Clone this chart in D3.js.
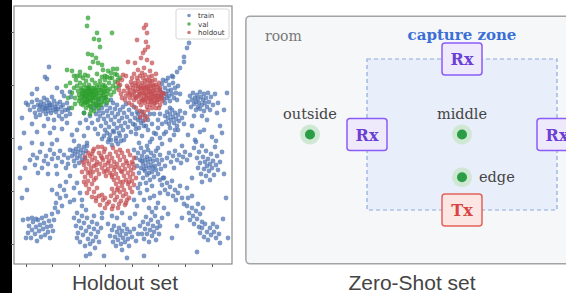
<!DOCTYPE html>
<head>
<meta charset="utf-8">
<script src="https://d3js.org/d3.v7.min.js"></script>
<style>
body { margin: 0; background: #fff; }
svg { display: block; }
.caption { font-family: "Liberation Sans", Arial, sans-serif; font-size: 21px; fill: #444; text-anchor: middle; }
.serif { font-family: "DejaVu Serif", serif; }
.legend text { font-family: "DejaVu Sans", sans-serif; font-size: 7px; fill: #333; }
</style>
</head>
<body>
<script>
// ---- scatter data (embedding coords) ----
var seriesNames = ["train", "val", "holdout"];
var seriesColors = ["#4c72b0", "#2ca02c", "#c44e52"];
var xTicks = [-106, -80, -53, -27, 0, 26, 53, 80];
var yTicks = [106, 53, 0, -53, -106];

var train = [
  [-104,33],[-102,28],[-100,36],[-98,31],[-97,25],[-95,38],[-94,33],[-93,28],[-92,23],[-91,36],[-90,31],[-89,27],[-88,34],[-87,29],[-86,24],[-85,38],[-85,32],[-84,27],[-83,35],[-82,30],[-81,25],[-80,33],[-79,28],[-78,37],[-77,31],[-76,26],[-75,34],[-74,29],[-73,22],[-72,36],[-71,31],[-70,26],[-69,33],[-67,28],[-66,22],[-65,35],[-63,30],[-62,24],[-88,40],[-80,41],[-96,21],[-84,19],[-78,18],[-70,19],[-92,32],[-86,30],[-82,33],[-76,29],
  [-83,71],[-87,61],[-85,59],[-62,46],[-61,41],[-70,46],[-100,44],[-106,35],[-75,50],[-95,49],[-68,42],[-64,28],
  [-38,30],[-36,24],[-35,33],[-34,18],[-33,27],[-32,22],[-31,12],[-30,30],[-29,25],[-28,19],[-27,8],[-26,33],[-26,15],[-25,27],[-24,22],[-23,11],[-22,3],[-22,30],[-21,18],[-20,25],[-19,7],[-19,35],[-18,14],[-17,29],[-17,21],[-16,0],[-15,10],[-15,33],[-14,24],[-13,17],[-13,5],[-12,28],[-11,-3],[-11,12],[-10,20],[-9,31],[-9,8],[-8,25],[-7,15],[-6,2],[-6,34],[-5,21],[-4,11],[-3,28],[-2,17],[-1,6],[0,24],[1,14],[2,31],[3,20],[4,9],[5,26],[-40,15],[-42,22],[-37,9],[-34,4],[-30,-1],[-24,-4],[-20,-7],[-14,-6],[-8,-2],[-28,2],[-16,-3],[-23,-1],[-12,2],[-18,6],[-21,-2],[-25,5],[-44,10],[-46,18],[-48,25],[-33,38],[-27,40],[-21,38],
  [28,48],[29,42],[30,54],[31,45],[32,39],[33,50],[34,44],[34,57],[35,40],[36,47],[37,53],[37,42],[38,37],[39,48],[40,44],[41,55],[42,40],[43,50],[44,45],[45,38],[36,60],[40,62],[33,35],[38,30],[46,52],[31,58],[48,44],
  [55,90],[52,81],[52,76],[48,70],[45,66],[41,61],[57,95],
  [56,36],[58,42],[59,31],[60,38],[61,45],[62,34],[63,40],[64,28],[64,36],[65,43],[66,31],[66,39],[67,35],[68,46],[68,29],[69,41],[70,33],[71,38],[72,44],[72,27],[73,35],[74,40],[75,31],[76,45],[77,36],[78,28],[79,41],[81,33],[83,44],[70,22],[62,22],[86,35],
  [33,22],[34,16],[35,26],[36,20],[37,14],[38,24],[39,18],[40,28],[41,21],[42,15],[43,25],[44,19],[45,12],[46,23],[47,17],[48,27],[50,20],[52,14],[38,10],[43,8],[30,14],[28,24],
  [6,18],[9,15],[3,13],[12,12],[16,8],[20,14],[22,5],[26,10],
  [6,24],[8,20],[10,26],[11,17],[13,22],[14,12],[7,10],[16,18],[18,24],[4,4],[10,2],[20,-1],[24,4],[28,0],[32,4],[26,18],[22,24],[34,6],[38,-2],[42,3],[46,8],
  [75,18],[80,1],[68,6],[53,25],[85,25],[60,12],[88,12],[72,8],[56,3],[63,-2],[92,28],[95,45],[90,5],
  [-95,6],[-82,5],[-65,15],[-52,15],[-55,8],[-60,3],[-70,9],[-88,12],[-100,14],[-75,-2],[-108,5],[-78,10],[-58,-3],[-48,2],[-45,-5],
  [-60,-18],[-59,-13],[-58,-23],[-57,-16],[-56,-11],[-55,-20],[-54,-14],[-53,-25],[-52,-18],[-51,-12],[-50,-22],[-49,-15],[-48,-9],[-47,-20],[-46,-13],[-45,-8],[-53,-8],[-62,-12],[-64,-20],[-57,-28],
  [-102,-22],[-99,-17],[-97,-27],[-95,-20],[-92,-14],[-90,-30],[-88,-23],[-86,-18],[-84,-26],[-82,-12],[-80,-21],[-78,-16],[-76,-28],[-74,-20],[-72,-13],[-70,-24],[-68,-17],[-66,-30],[-64,-26],[-94,-35],[-84,-36],[-107,-30],[-75,-36],[-80,-6],[-90,-6],[-100,-5],
  [2,-12],[4,-20],[5,-28],[6,-15],[7,-35],[8,-22],[9,-10],[9,-30],[10,-18],[11,-26],[11,-40],[12,-14],[13,-22],[13,-33],[14,-28],[15,-19],[15,-37],[16,-24],[16,-12],[17,-30],[18,-21],[18,-42],[19,-27],[19,-15],[20,-34],[21,-23],[22,-18],[22,-39],[23,-28],[24,-13],[24,-32],[25,-22],[26,-36],[27,-26],[28,-17],[29,-31],[30,-22],[31,-40],[33,-28],[14,-45],[8,-46],[20,-48],[12,-31],[17,-35],[10,-23],[21,-30],[15,-8],[26,-10],[7,-5],[18,-4],[30,-6],
  [35,-20],[37,-15],[39,-24],[41,-18],[43,-13],[45,-22],[47,-17],[49,-25],[51,-19],[53,-14],[55,-22],[58,-17],[42,-30],[50,-8],
  [62,-10],[64,-4],[65,-20],[66,-30],[67,-14],[68,-25],[69,-36],[70,-8],[71,-19],[72,-31],[73,-24],[74,-13],[74,-38],[75,-28],[76,-21],[77,-33],[78,-26],[79,-16],[80,-30],[81,-23],[82,-37],[83,-9],[84,-27],[85,-18],[86,-32],[88,-24],[90,-14],[78,-42],[70,-44],[84,-3],[92,-36],
  [28,-42],[30,-47],[32,-40],[33,-52],[35,-45],[36,-56],[38,-49],[40,-43],[41,-58],[43,-52],[44,-62],[46,-55],[48,-48],[50,-60],[52,-66],
  [55,-68],[57,-75],[58,-82],[60,-70],[61,-78],[62,-86],[64,-73],[65,-81],[66,-66],[67,-89],[68,-76],[70,-84],[71,-70],[56,-60],[60,-58],
  [68,-95],[70,-90],[72,-99],[73,-86],[75,-94],[76,-102],[78,-90],[79,-97],[81,-86],[82,-94],[84,-100],[85,-89],[87,-96],[88,-105],[91,-81],[65,-114],
  [-109,-82],[-104,-95],[-103,-88],[-101,-100],[-100,-92],[-99,-84],[-97,-96],[-96,-89],[-95,-103],[-94,-82],[-93,-93],[-92,-87],[-91,-99],[-90,-80],[-89,-91],[-88,-85],[-87,-97],[-86,-78],[-85,-89],[-84,-94],[-83,-83],[-82,-100],[-81,-88],[-80,-76],[-79,-93],[-78,-82],[-77,-70],[-76,-65],[-74,-74],[-72,-60],[-104,-81],[-100,-80],[-96,-81],[-106,-100],[-70,-68],
  [-80,-52],[-75,-56],[-72,-48],[-68,-52],[-105,-52],[-66,-44],[-62,-38],
  [-58,-80],[-56,-88],[-55,-75],[-54,-95],[-53,-83],[-52,-104],[-51,-90],[-50,-78],[-49,-97],[-48,-85],[-47,-108],[-46,-93],[-45,-80],[-44,-101],[-43,-89],[-42,-106],[-41,-96],[-40,-84],[-39,-103],[-38,-91],[-37,-110],[-36,-99],[-35,-86],[-34,-94],[-33,-104],[-31,-90],[-42,-116],[-50,-68],[-58,-62],[-55,-100],[-46,-72],[-38,-78],[-30,-80],
  [-22,-98],[-20,-92],[-19,-104],[-18,-88],[-17,-99],[-16,-108],[-15,-94],[-14,-102],[-13,-90],[-12,-97],[-11,-106],[-10,-93],[-9,-100],[-8,-87],[-7,-104],[-6,-96],[-5,-91],[-4,-101],[-3,-108],[-2,-94],[0,-99],[2,-91],[4,-103],[6,-96],[-24,-86],[-10,-112],[-15,-80],
  [8,-88],[10,-96],[11,-84],[12,-101],[13,-91],[14,-79],[15,-96],[16,-86],[17,-104],[18,-92],[19,-82],[20,-98],[21,-88],[22,-94],[23,-78],[24,-102],[25,-90],[26,-84],[27,-96],[28,-88],[30,-80],[20,-74],[17,-70],[24,-70],
  [8,-55],[12,-62],[5,-68],[15,-52],[22,-58],[26,-65],[18,-60],[32,-70],[36,-76],[28,-55],[3,-76],[-2,-80],
  [-55,-45],[-52,-55],[-58,-50],[-50,-62],[-20,-78],[-30,-75],[-10,-75],[2,-62],[6,-50],[-62,-64],[-66,-58],[-46,-118],[-28,-118],[-5,-120],[12,-118],[40,-100],[45,-88],[50,-80],[-110,-60],[-112,-40],[-112,-10],[-110,20],[94,-60],[96,-100],[60,-40],[55,-50]
];

var val = [
  [-44,120],[-45,112],[-35,105],[-20,105],[-38,99],[-33,98],[-32,91],[-44,84],[-40,83],[-39,76],[-34,75],[-30,73],[-65,68],[-60,67],[-52,66],[-47,63],[-29,68],[-24,67],[-19,69],[-15,69],[-36,80],[-42,70],[-27,62],[-22,60],
  [-56,58],[-55,52],[-54,47],[-53,43],[-52,55],[-51,50],[-50,44],[-50,38],[-49,60],[-48,53],[-48,47],[-47,41],[-47,35],[-46,57],[-46,50],[-45,45],[-45,39],[-44,33],[-43,53],[-43,48],[-42,43],[-42,37],[-41,31],[-40,58],[-40,50],[-39,45],[-39,40],[-38,34],[-37,55],[-37,47],[-36,42],[-36,37],[-35,51],[-34,45],[-34,39],[-33,33],[-32,57],[-31,48],[-31,42],[-30,36],[-29,53],[-28,46],[-28,40],[-27,58],[-26,50],[-25,44],[-24,38],[-23,55],[-22,49],[-21,43],[-20,60],[-19,52],[-18,46],[-17,56],[-16,50],[-15,63],[-14,58],[-13,52],[-58,50],[-60,45],[-57,40],[-52,62],[-44,62],[-35,64],[-30,61],[-41,28],[-38,27],[-46,30],[-49,33],[-53,37],[-44,41],[-41,46],[-43,50],[-48,42],[-46,36],[-38,43],[-36,48],[-33,53],[-25,61],[-21,65],[-17,64],[-12,60],[-62,55],[-58,62],[-66,52],[-64,40],[-48,25],[-42,24],[-45,47],[-40,40],[-50,48],[-52,40],[-34,30],[-30,45],[-27,52],[-24,47],[-55,62],[-60,30],[-57,34],
  [-51,34],[-49,41],[-47,46],[-45,36],[-44,50],[-43,43],[-42,32],[-41,38],[-40,47],[-39,35],[-38,50],[-37,40],[-35,44],[-34,35],[-33,48],[-32,40],[-31,33],[-29,43],[-28,37],[-27,47],[-26,41],[-44,38],[-48,37],[-50,45],[-36,32],[-40,43],[-46,43],[-30,50],[-25,35],[-42,47]
];

var holdout = [
  [14,113],[12,110],[15,105],[5,98],[14,96],[16,91],[11,85],[-4,76],[3,75],[15,78],[20,75],[13,88],[9,80],[-10,58],[-9,63],[-12,53],[6,68],[12,70],[18,67],[24,64],
  [-11,44],[-8,47],[-6,42],[-4,45],[-2,40],[0,43],[2,38],[3,47],[4,52],[5,41],[6,57],[7,36],[7,46],[8,62],[8,50],[9,40],[9,33],[10,55],[10,45],[11,38],[11,60],[12,49],[12,42],[13,35],[13,53],[14,46],[14,39],[15,58],[15,50],[15,31],[16,43],[16,36],[17,54],[17,47],[18,40],[18,33],[19,50],[19,44],[20,37],[20,57],[21,47],[21,41],[22,34],[22,52],[23,44],[23,38],[24,48],[24,30],[25,42],[25,36],[26,51],[26,45],[27,39],[28,33],[28,47],[29,42],[30,37],[10,65],[13,63],[17,61],[20,62],[6,49],[3,55],[1,50],[-1,56],[-5,52],[-7,38],[-3,35],[0,33],[4,30],[8,27],[12,26],[16,28],[20,30],[11,23],[15,21],[13,18],[-10,40],[-13,48],[9,52],[12,45],[16,49],[19,39],[22,42],[18,46],[14,43],[11,50],[21,53],[24,40],[26,38],[5,60],[2,64],[13,57],[18,57],[23,58],[27,55],[7,43],[10,37],[3,42],[-2,48],[0,60],[-6,62],[-14,55],[27,30],[30,45],
  [-4,50],[-2,44],[0,53],[2,46],[4,40],[6,53],[8,44],[10,49],[12,38],[14,51],[16,40],[18,52],[20,44],[22,48],[24,53],[26,42],[28,50],[30,40],[32,44],[8,21],[19,36],[23,35],
  [-34,-9],[-27,-11],[-19,-10],[-12,-12],
  [-44,-15],[-39,-13],[-33,-15],[-28,-14],[-22,-16],[-16,-14],[-10,-15],[-4,-13],
  [-47,-19],[-42,-18],[-37,-20],[-31,-18],[-25,-19],[-20,-20],[-14,-18],[-8,-19],[-2,-17],[2,-20],
  [-45,-23],[-40,-22],[-35,-24],[-29,-22],[-23,-23],[-18,-24],[-12,-22],[-6,-23],[0,-24],
  [-48,-27],[-43,-26],[-38,-28],[-32,-26],[-27,-27],[-21,-28],[-15,-26],[-9,-27],[-3,-28],[1,-26],
  [-46,-31],[-41,-30],[-35,-32],[-30,-30],[-24,-31],[-18,-32],[-13,-30],[-7,-31],[-1,-32],
  [-44,-35],[-39,-34],[-33,-36],[-28,-34],[-22,-35],[-16,-36],[-10,-34],[-4,-35],[1,-36],
  [-47,-39],[-41,-38],[-36,-40],[-26,-38],[-20,-39],[-14,-40],[-8,-38],[-2,-39],
  [-44,-43],[-38,-42],[-18,-42],[-12,-44],[-6,-42],[0,-43],
  [-46,-47],[-40,-46],[-16,-46],[-10,-48],[-4,-46],[2,-47],
  [-43,-51],[-35,-50],[-20,-51],[-14,-50],[-8,-52],[-2,-50],
  [-45,-55],[-38,-54],[-30,-57],[-18,-55],[-12,-54],[-6,-56],[0,-54],
  [-40,-59],[-33,-58],[-27,-60],[-21,-58],[-15,-59],[-9,-58],[-3,-60],
  [-36,-63],[-29,-62],[-23,-64],[-17,-62],[-11,-63],[-5,-62],
  [-32,-67],[-25,-66],[-19,-68],[-13,-66],[-7,-67],
  [-27,-70],[-20,-71],[-14,-70],
  [-40,-16],[-30,-20],[-24,-25],[-17,-29],[-11,-33],[-5,-25],[-36,-27],[-42,-34],[-26,-33],[-20,-37],[-9,-44],[-15,-52],[-3,-44],[-49,-24],[-50,-34],[-48,-44],[-36,-60],[2,-30],[4,-40],[-6,-65],[-30,-9],[-38,-11]
];

// ---- zero-shot layout (metres, capture zone = 4 x 3) ----
var receivers = [[2, 3], [0, 1.5], [4, 1.5]];
var transmitter = [2, 0];
var testPoints = [
  {name: "outside", pos: [-1.2, 1.5]},
  {name: "middle", pos: [2, 1.5]},
  {name: "edge", pos: [2, 0.65]}
];
var zoneSize = [4, 3];
var roomBounds = [-2.55, -1.07, 5.0, 3.85];

var W = 566, H = 293;
var svg = d3.select("body").append("svg").attr("width", W).attr("height", H);

// black strip at the left edge
svg.append("rect").attr("x", 0).attr("y", 0).attr("width", 12).attr("height", H).attr("fill", "#000");

// ---------------- left: scatter ----------------
var plot = {left: 14, right: 232, top: 6, bottom: 264};
var x = d3.scaleLinear().domain([-118, 100]).range([plot.left, plot.right]);
var y = d3.scaleLinear().domain([-126, 132]).range([plot.bottom, plot.top]);

svg.append("g")
    .attr("transform", "translate(0," + plot.bottom + ")")
    .call(d3.axisBottom(x).tickValues(xTicks).tickSize(3).tickFormat(""))
    .call(function(g) { g.select(".domain").remove(); g.selectAll("line").attr("stroke", "#555"); });

svg.append("g")
    .attr("transform", "translate(" + plot.left + ",0)")
    .call(d3.axisLeft(y).tickValues(yTicks).tickSize(3).tickFormat(""))
    .call(function(g) { g.select(".domain").remove(); g.selectAll("line").attr("stroke", "#555"); });

var allSeries = [train, val, holdout];
allSeries.forEach(function(pts, i) {
    svg.append("g").selectAll("circle")
        .data(pts)
        .enter().append("circle")
        .attr("cx", function(d) { return x(d[0]); })
        .attr("cy", function(d) { return y(d[1]); })
        .attr("r", 2.4)
        .attr("fill", seriesColors[i])
        .attr("fill-opacity", 0.72);
});

svg.append("rect")
    .attr("x", plot.left).attr("y", plot.top)
    .attr("width", plot.right - plot.left).attr("height", plot.bottom - plot.top)
    .attr("fill", "none").attr("stroke", "#8c8c8c").attr("stroke-width", 1.2);

// legend
var legend = svg.append("g").attr("class", "legend");
legend.append("rect")
    .attr("x", 176).attr("y", 9).attr("width", 53).attr("height", 30).attr("rx", 2)
    .attr("fill", "#fff").attr("fill-opacity", 0.85).attr("stroke", "#d6d6d6");
seriesNames.forEach(function(name, i) {
    var ly = 15.5 + i * 8.5;
    legend.append("circle").attr("cx", 189).attr("cy", ly).attr("r", 1.8)
        .attr("fill", seriesColors[i]).attr("fill-opacity", 0.75);
    legend.append("text").attr("x", 198).attr("y", ly + 2.5).text(name);
});

svg.append("text").attr("class", "caption").attr("x", 125).attr("y", 290).text("Holdout set");

// ---------------- right: zero-shot diagram ----------------
var zx = d3.scaleLinear().domain([0, zoneSize[0]]).range([367, 557]);
var zy = d3.scaleLinear().domain([0, zoneSize[1]]).range([210, 59]);

svg.append("rect")
    .attr("x", zx(roomBounds[0])).attr("y", zy(roomBounds[3]))
    .attr("width", zx(roomBounds[2]) - zx(roomBounds[0]))
    .attr("height", zy(roomBounds[1]) - zy(roomBounds[3]))
    .attr("rx", 4)
    .attr("fill", "#f6f7f9").attr("stroke", "#a3a3a3").attr("stroke-width", 1.5);

svg.append("text").attr("class", "serif")
    .attr("x", 265).attr("y", 41)
    .attr("font-size", 14).attr("fill", "#777")
    .text("room");

svg.append("rect")
    .attr("x", zx(0)).attr("y", zy(zoneSize[1]))
    .attr("width", zx(zoneSize[0]) - zx(0))
    .attr("height", zy(0) - zy(zoneSize[1]))
    .attr("fill", "#e8eefa").attr("stroke", "#8eaadf")
    .attr("stroke-width", 1.2).attr("stroke-dasharray", "4,3");

svg.append("text").attr("class", "serif")
    .attr("x", zx(2)).attr("y", 40)
    .attr("text-anchor", "middle").attr("font-size", 15).attr("font-weight", "bold")
    .attr("fill", "#3b6fd4")
    .text("capture zone");

function device(pos, label, fill, stroke, color) {
    var cx = zx(pos[0]), cy = zy(pos[1]);
    svg.append("rect")
        .attr("x", cx - 20).attr("y", cy - 16).attr("width", 40).attr("height", 32).attr("rx", 3)
        .attr("fill", fill).attr("stroke", stroke).attr("stroke-width", 1.5);
    svg.append("text").attr("class", "serif")
        .attr("x", cx).attr("y", cy + 6)
        .attr("text-anchor", "middle").attr("font-size", 16).attr("font-weight", "bold")
        .attr("fill", color).text(label);
}

receivers.forEach(function(p) { device(p, "Rx", "#efe9fc", "#8b5cf6", "#6b3fd4"); });
device(transmitter, "Tx", "#fce6e4", "#e3625b", "#d64541");

testPoints.forEach(function(t) {
    var cx = zx(t.pos[0]), cy = zy(t.pos[1]);
    svg.append("circle").attr("cx", cx).attr("cy", cy).attr("r", 10).attr("fill", "#cfe8d3");
    svg.append("circle").attr("cx", cx).attr("cy", cy).attr("r", 5).attr("fill", "#2a9d45");
    var lab = svg.append("text").attr("class", "serif").attr("font-size", 14.5).attr("fill", "#444").text(t.name);
    if (t.name == "edge") {
        lab.attr("x", cx + 17).attr("y", cy + 4.5);
    } else {
        lab.attr("x", cx).attr("y", cy - 16).attr("text-anchor", "middle");
    }
});

svg.append("text").attr("class", "caption").attr("x", 412).attr("y", 290).text("Zero-Shot set");
</script>
</body>
